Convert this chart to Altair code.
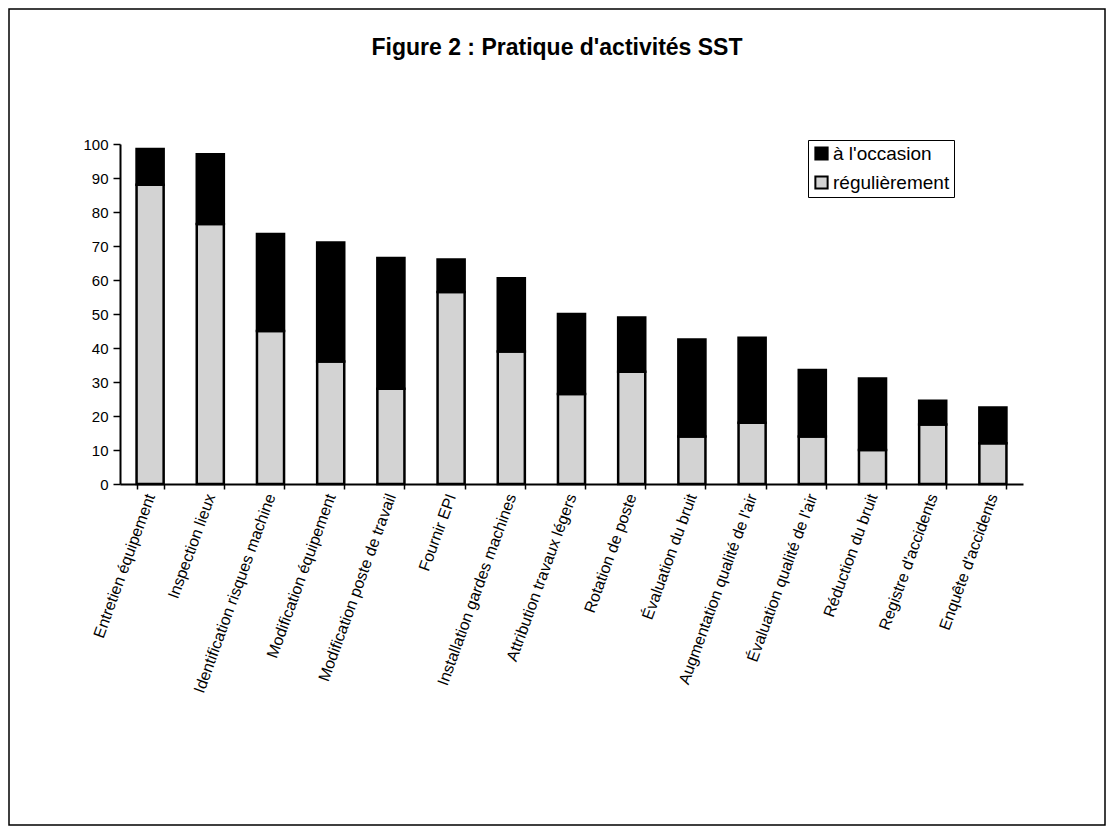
import altair as alt
import pandas as pd

categories = [
    "Entretien équipement", "Inspection lieux", "Identification risques machine",
    "Modification équipement", "Modification poste de travail", "Fournir EPI",
    "Installation gardes machines", "Attribution travaux légers", "Rotation de poste",
    "Évaluation du bruit", "Augmentation qualité de l'air", "Évaluation qualité de l'air",
    "Réduction du bruit", "Registre d'accidents", "Enquête d'accidents",
]
regulierement = [88, 76.5, 45, 36, 28, 56.5, 39, 26.5, 33, 14, 18, 14, 10, 17.5, 12]
occasion = [10.5, 20.5, 28.5, 35, 38.5, 9.5, 21.5, 23.5, 16, 28.5, 25, 19.5, 21, 7, 10.5]
series = ["à l'occasion", "régulièrement"]
colors = ["#000000", "#d3d3d3"]
title_text = ["Figure 2 : Pratique d'activités SST"]

rows = []
for c, r, o in zip(categories, regulierement, occasion):
    rows.append({"activite": c, "serie": series[1], "valeur": r, "ordre": 1})
    rows.append({"activite": c, "serie": series[0], "valeur": o, "ordre": 2})
df = pd.DataFrame(rows)

FONT = "Liberation Sans"

bars = alt.Chart(df).mark_bar(stroke="black", strokeWidth=2.5).encode(
    x=alt.X("activite:N", sort=categories, title=None,
            scale=alt.Scale(paddingInner=0.55, paddingOuter=0.275),
            axis=alt.Axis(labelAngle=-70, labelAlign="right", labelBaseline="middle",
                          labelFontSize=16, labelFont=FONT, labelColor="black",
                          tickBand="extent", tickColor="black", tickSize=5, tickWidth=1.5,
                          domainColor="black", domainWidth=2, labelPadding=5,
                          labelLimit=500)),
    y=alt.Y("valeur:Q", stack="zero", title=None,
            scale=alt.Scale(domain=[0, 100], nice=False),
            axis=alt.Axis(values=list(range(0, 101, 10)), grid=False,
                          labelFontSize=15, labelFont=FONT, labelColor="black",
                          tickColor="black", tickSize=7, tickWidth=1.5,
                          domainColor="black", domainWidth=2, labelPadding=5)),
    color=alt.Color("serie:N", scale=alt.Scale(domain=series, range=colors),
                    legend=alt.Legend(title=None, orient="none", legendX=688, legendY=-4,
                                      strokeColor="black", padding=4, fillColor="white",
                                      symbolType="square", symbolSize=150,
                                      symbolStrokeColor="black", symbolStrokeWidth=2,
                                      labelOffset=2, labelFontSize=19, labelFont=FONT,
                                      labelColor="black", rowPadding=8)),
    order=alt.Order("ordre:Q"),
)

frame = alt.Chart(pd.DataFrame({"f": [0]})).mark_rect(
    fill=None, stroke="black", strokeWidth=1.5
).encode(
    x=alt.value(-111), x2=alt.value(985), y=alt.value(-135), y2=alt.value(681)
)

title = alt.Chart(pd.DataFrame({"t": title_text})).mark_text(
    font=FONT, fontSize=23, fontWeight="bold", color="black", baseline="middle",
    align="center"
).encode(text="t:N", x=alt.value(437), y=alt.value(-96))

chart = alt.layer(frame, title, bars).properties(
    width=903, height=340,
    padding={"left": 112, "top": 136, "right": 83, "bottom": 342},
    autosize=alt.AutoSizeParams(type="none"),
).configure_view(stroke=None)

chart.save("out.html", embed_options={"renderer": "svg", "actions": False})
